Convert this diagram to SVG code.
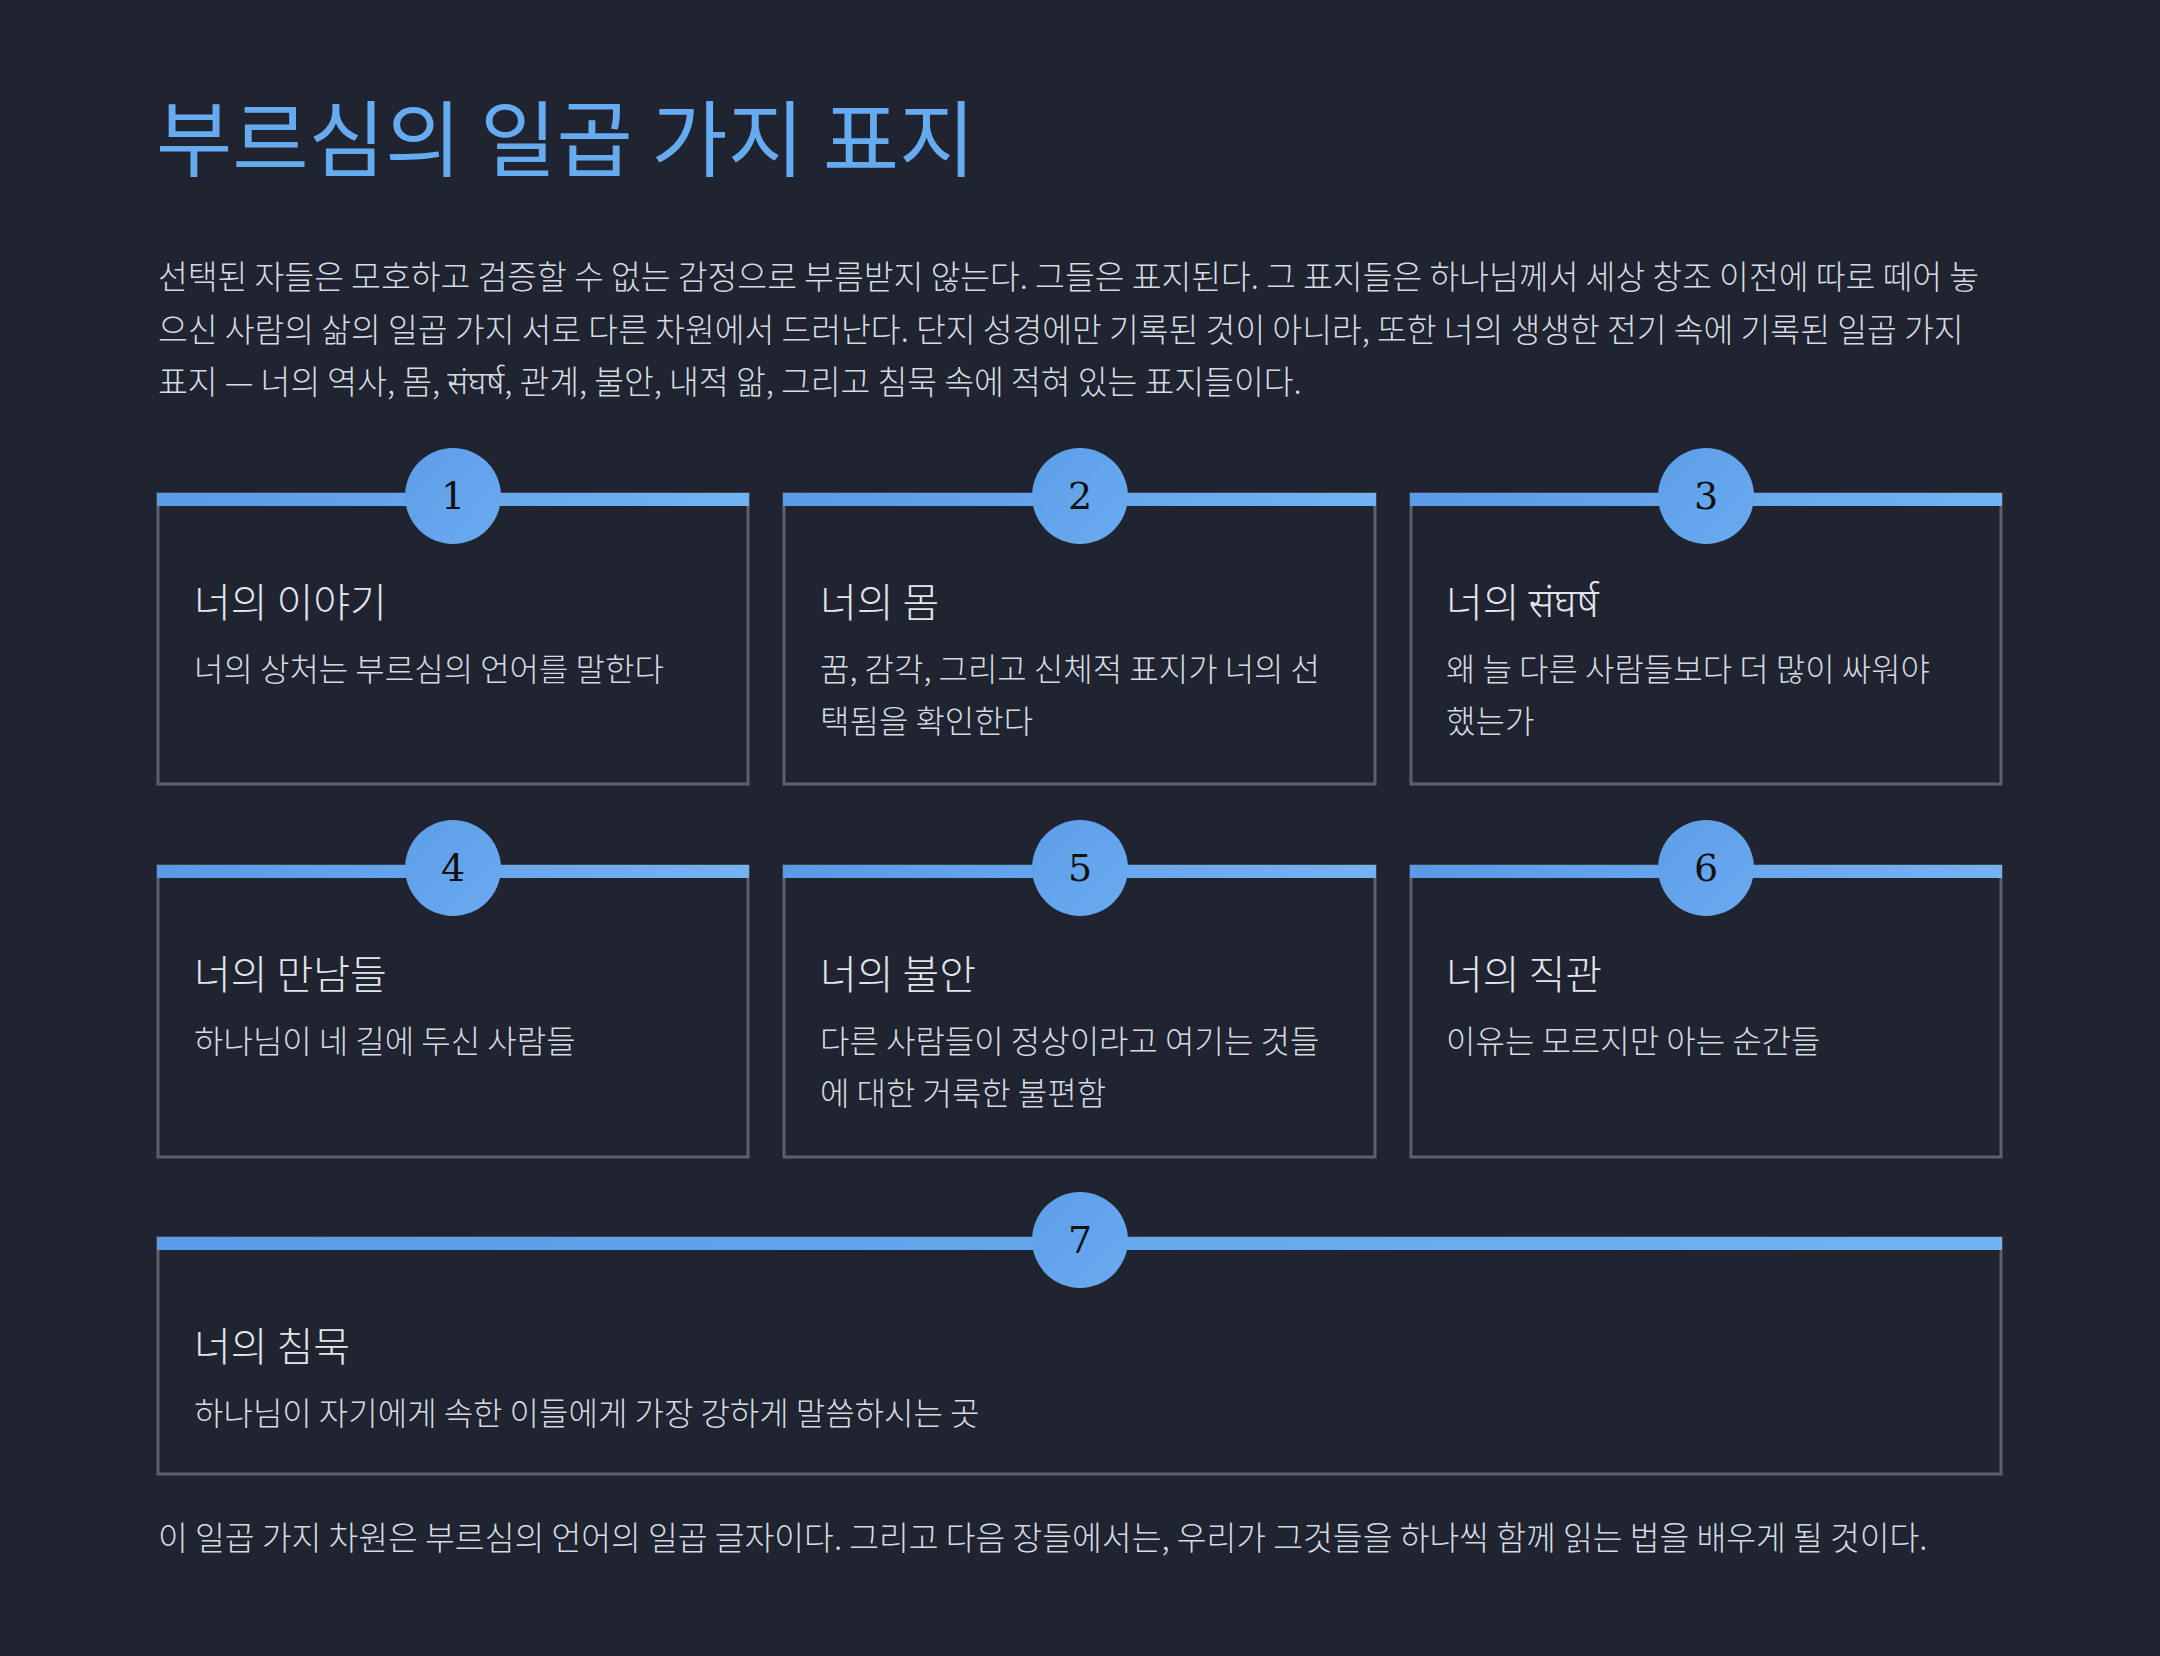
<svg xmlns="http://www.w3.org/2000/svg" width="2160" height="1656" viewBox="0 0 2160 1656">
<defs>
<linearGradient id="bar" x1="0" x2="1" y1="0" y2="0"><stop offset="0" stop-color="#5a9ae6"/><stop offset="1" stop-color="#73b2f2"/></linearGradient>
<linearGradient id="circ" x1="0" x2="1" y1="0" y2="1"><stop offset="0" stop-color="#5c9ee8"/><stop offset="1" stop-color="#6aaaf0"/></linearGradient>
</defs>
<style>
text{font-family:"Noto Sans CJK KR","Noto Sans",sans-serif;}
.title{font-size:83px;fill:#66aaf0;font-weight:400;}
.p{font-size:32.4px;fill:#d6dbe3;font-weight:300;}
.card{fill:#1f2430;stroke:#5b606c;stroke-width:3;}
.bar{fill:url(#bar);}
.c{fill:url(#circ);}
.n{font-family:"DejaVu Serif","Liberation Serif",serif;font-size:38px;fill:#111;text-anchor:middle;}
.h{font-size:40px;fill:#e2e6ec;font-weight:300;}
.d{font-size:32px;fill:#d6dbe3;font-weight:300;}
</style>
<rect width="2160" height="1656" fill="#1f2430"/>
<text class="title" x="156" y="170">부르심의 일곱 가지 표지</text>
<text class="p" x="158" y="289">선택된 자들은 모호하고 검증할 수 없는 감정으로 부름받지 않는다. 그들은 표지된다. 그 표지들은 하나님께서 세상 창조 이전에 따로 떼어 놓</text>
<text class="p" x="158" y="342">으신 사람의 삶의 일곱 가지 서로 다른 차원에서 드러난다. 단지 성경에만 기록된 것이 아니라, 또한 너의 생생한 전기 속에 기록된 일곱 가지</text>
<text class="p" x="158" y="394">표지 — 너의 역사, 몸, संघर्ष, 관계, 불안, 내적 앎, 그리고 침묵 속에 적혀 있는 표지들이다.</text>
<g id="node1"><rect class="card" x="158" y="494" width="590" height="290"/><rect class="bar" x="157" y="493" width="592" height="13"/><circle class="c" cx="453" cy="496" r="48"/><text class="n" x="453" y="509">1</text><text class="h" x="194" y="617">너의 이야기</text><text class="d" x="194" y="681">너의 상처는 부르심의 언어를 말한다</text></g>
<g id="node2"><rect class="card" x="784" y="494" width="591" height="290"/><rect class="bar" x="783" y="493" width="593" height="13"/><circle class="c" cx="1080" cy="496" r="48"/><text class="n" x="1080" y="509">2</text><text class="h" x="820" y="617">너의 몸</text><text class="d" x="820" y="681">꿈, 감각, 그리고 신체적 표지가 너의 선</text><text class="d" x="820" y="733">택됨을 확인한다</text></g>
<g id="node3"><rect class="card" x="1411" y="494" width="590" height="290"/><rect class="bar" x="1410" y="493" width="592" height="13"/><circle class="c" cx="1706" cy="496" r="48"/><text class="n" x="1706" y="509">3</text><text class="h" x="1446" y="617">너의 संघर्ष</text><text class="d" x="1446" y="681">왜 늘 다른 사람들보다 더 많이 싸워야</text><text class="d" x="1446" y="733">했는가</text></g>
<g id="node4"><rect class="card" x="158" y="866" width="590" height="291"/><rect class="bar" x="157" y="865" width="592" height="13"/><circle class="c" cx="453" cy="868" r="48"/><text class="n" x="453" y="881">4</text><text class="h" x="194" y="989">너의 만남들</text><text class="d" x="194" y="1053">하나님이 네 길에 두신 사람들</text></g>
<g id="node5"><rect class="card" x="784" y="866" width="591" height="291"/><rect class="bar" x="783" y="865" width="593" height="13"/><circle class="c" cx="1080" cy="868" r="48"/><text class="n" x="1080" y="881">5</text><text class="h" x="820" y="989">너의 불안</text><text class="d" x="820" y="1053">다른 사람들이 정상이라고 여기는 것들</text><text class="d" x="820" y="1105">에 대한 거룩한 불편함</text></g>
<g id="node6"><rect class="card" x="1411" y="866" width="590" height="291"/><rect class="bar" x="1410" y="865" width="592" height="13"/><circle class="c" cx="1706" cy="868" r="48"/><text class="n" x="1706" y="881">6</text><text class="h" x="1446" y="989">너의 직관</text><text class="d" x="1446" y="1053">이유는 모르지만 아는 순간들</text></g>
<g id="node7"><rect class="card" x="158" y="1238" width="1843" height="236"/><rect class="bar" x="157" y="1237" width="1845" height="13"/><circle class="c" cx="1080" cy="1240" r="48"/><text class="n" x="1080" y="1253">7</text><text class="h" x="194" y="1361">너의 침묵</text><text class="d" x="194" y="1425">하나님이 자기에게 속한 이들에게 가장 강하게 말씀하시는 곳</text></g>
<g id="connectors"></g>
<text class="p" x="158" y="1550">이 일곱 가지 차원은 부르심의 언어의 일곱 글자이다. 그리고 다음 장들에서는, 우리가 그것들을 하나씩 함께 읽는 법을 배우게 될 것이다.</text>
</svg>
